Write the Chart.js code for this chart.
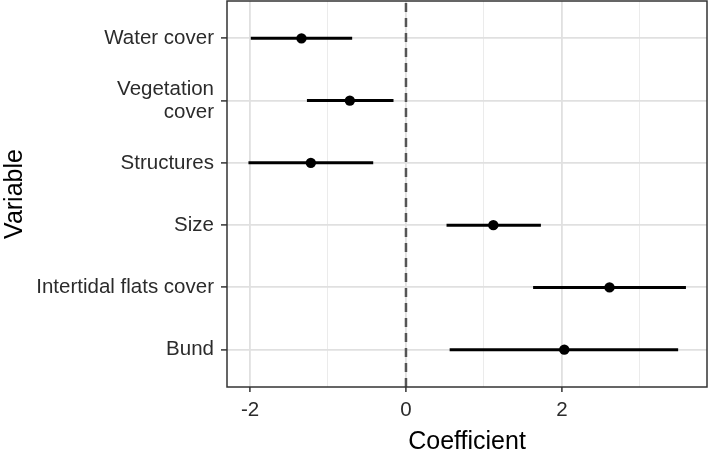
<!DOCTYPE html>
<html>
<head>
<meta charset="utf-8">
<script src="https://cdn.jsdelivr.net/npm/chart.js@4/dist/chart.umd.min.js"></script>
<style>
  html, body { margin: 0; padding: 0; background: #fff; }
  #wrap { width: 709px; height: 451px; }
</style>
</head>
<body>
<div id="wrap"><canvas id="chart" width="709" height="451"></canvas></div>
<script>
// Data, top row first
const variables = ['Water cover', ['Vegetation', 'cover'], 'Structures', 'Size', 'Intertidal flats cover', 'Bund'];
const estimates = [-1.34, -0.72, -1.22, 1.12, 2.61, 2.03];
const lower = [-1.99, -1.27, -2.02, 0.52, 1.63, 0.56];
const upper = [-0.69, -0.16, -0.42, 1.73, 3.59, 3.49];
const xTicks = [-2, -1, 0, 1, 2, 3];
const xLabelled = [-2, 0, 2];

const n = variables.length;
const pos = i => n - i;

// Panel border like ggplot theme_bw
const panelBorder = {
    id: 'panelBorder',
    afterDraw(chart) {
        const a = chart.chartArea;
        const ctx = chart.ctx;
        ctx.save();
        ctx.strokeStyle = '#333333';
        ctx.lineWidth = 1.5;
        ctx.strokeRect(a.left, a.top, a.right - a.left, a.bottom - a.top);
        ctx.restore();
    }
};

const datasets = [];

// reference line at zero
datasets.push({
    data: [{x: 0, y: 0.4}, {x: 0, y: 6.6}],
    showLine: true,
    borderColor: '#555555',
    borderWidth: 2.5,
    borderDash: [9, 6],
    pointRadius: 0
});

// intervals
variables.forEach((v, i) => {
    datasets.push({
        data: [{x: lower[i], y: pos(i)}, {x: upper[i], y: pos(i)}],
        showLine: true,
        borderColor: '#000000',
        borderWidth: 3,
        pointRadius: 0
    });
});

// point estimates
datasets.push({
    data: estimates.map((e, i) => ({x: e, y: pos(i)})),
    pointRadius: 5.2,
    pointBackgroundColor: '#000000',
    pointBorderColor: '#000000',
    pointBorderWidth: 0
});

const ctx = document.getElementById('chart').getContext('2d');
new Chart(ctx, {
    type: 'scatter',
    data: { datasets: datasets },
    options: {
        responsive: false,
        animation: false,
        layout: { autoPadding: false, padding: { top: 1, right: 2, left: 0, bottom: 0 } },
        plugins: {
            legend: { display: false },
            tooltip: { enabled: false }
        },
        scales: {
            x: {
                type: 'linear',
                min: -2.295,
                max: 3.86,
                afterBuildTicks: scale => { scale.ticks = xTicks.map(v => ({value: v})); },
                afterFit: scale => {
                    scale.height = 64;
                    scale.paddingLeft = 0;
                    scale.paddingRight = 0;
                },
                border: { display: false },
                grid: {
                    color: c => xLabelled.includes(c.tick.value) ? '#e0e0e0' : '#ebebeb',
                    lineWidth: c => xLabelled.includes(c.tick.value) ? 1.8 : 1,
                    tickColor: c => xLabelled.includes(c.tick.value) ? '#333333' : 'rgba(0,0,0,0)',
                    tickWidth: 1.5,
                    tickLength: 5
                },
                ticks: {
                    color: '#2b2b2b',
                    font: { family: 'Liberation Sans', size: 20.5 },
                    padding: 6,
                    maxRotation: 0,
                    callback: v => xLabelled.includes(v) ? String(v) : ''
                },
                title: {
                    display: true,
                    text: 'Coefficient',
                    color: '#000000',
                    font: { family: 'Liberation Sans', size: 25, lineHeight: 0.68 },
                    padding: 0
                }
            },
            y: {
                type: 'linear',
                min: 0.4,
                max: 6.6,
                afterBuildTicks: scale => { scale.ticks = variables.map((v, i) => ({value: pos(i)})); },
                afterFit: scale => {
                    scale.width = 227;
                    scale.paddingTop = 0;
                    scale.paddingBottom = 0;
                },
                border: { display: false },
                grid: {
                    color: '#e0e0e0',
                    lineWidth: 1.8,
                    tickColor: '#333333',
                    tickWidth: 1.5,
                    tickLength: 6
                },
                ticks: {
                    color: '#2b2b2b',
                    font: { family: 'Liberation Sans', size: 20.5, lineHeight: 1.1 },
                    padding: 7,
                    callback: v => variables[n - v]
                },
                title: {
                    display: true,
                    text: 'Variable',
                    color: '#000000',
                    font: { family: 'Liberation Sans', size: 25, lineHeight: 1.2 },
                    padding: 0
                }
            }
        }
    },
    plugins: [panelBorder]
});
</script>
</body>
</html>
